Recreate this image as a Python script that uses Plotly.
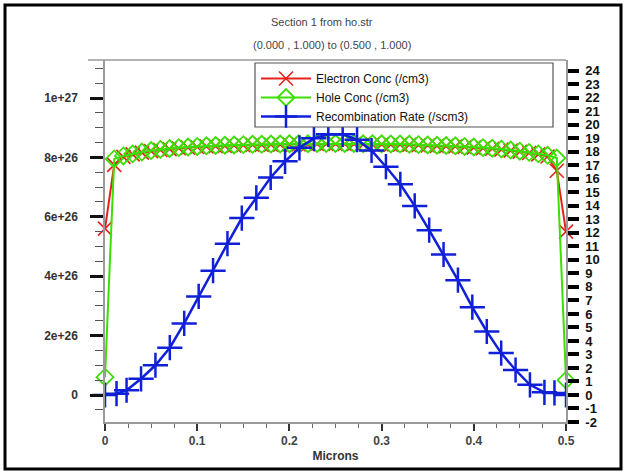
import plotly.graph_objects as go

# ---------------- data ----------------
x_conc = [0.00, 0.01, 0.02, 0.03, 0.04, 0.05, 0.06, 0.07, 0.08, 0.09,
          0.10, 0.11, 0.12, 0.13, 0.14, 0.15, 0.16, 0.17, 0.18, 0.19,
          0.20, 0.21, 0.22, 0.23, 0.24, 0.25, 0.26, 0.27, 0.28, 0.29,
          0.30, 0.31, 0.32, 0.33, 0.34, 0.35, 0.36, 0.37, 0.38, 0.39,
          0.40, 0.41, 0.42, 0.43, 0.44, 0.45, 0.46, 0.47, 0.48, 0.49, 0.50]

electron_conc = [5.60e26, 7.75e26, 8.02e26, 8.10e26, 8.16e26, 8.21e26, 8.25e26, 8.28e26, 8.31e26, 8.33e26,
                 8.35e26, 8.37e26, 8.38e26, 8.39e26, 8.40e26, 8.41e26, 8.42e26, 8.42e26, 8.43e26, 8.43e26,
                 8.44e26, 8.44e26, 8.44e26, 8.45e26, 8.45e26, 8.45e26, 8.45e26, 8.45e26, 8.44e26, 8.44e26,
                 8.44e26, 8.43e26, 8.43e26, 8.42e26, 8.41e26, 8.40e26, 8.39e26, 8.38e26, 8.37e26, 8.35e26,
                 8.33e26, 8.31e26, 8.29e26, 8.26e26, 8.23e26, 8.19e26, 8.15e26, 8.10e26, 8.03e26, 7.55e26, 5.50e26]

hole_conc = [0.60e26, 7.95e26, 8.05e26, 8.12e26, 8.18e26, 8.23e26, 8.27e26, 8.30e26, 8.33e26, 8.35e26,
             8.37e26, 8.39e26, 8.40e26, 8.41e26, 8.42e26, 8.43e26, 8.44e26, 8.44e26, 8.45e26, 8.45e26,
             8.46e26, 8.46e26, 8.46e26, 8.47e26, 8.47e26, 8.47e26, 8.47e26, 8.47e26, 8.46e26, 8.46e26,
             8.46e26, 8.45e26, 8.45e26, 8.44e26, 8.43e26, 8.42e26, 8.41e26, 8.40e26, 8.39e26, 8.37e26,
             8.35e26, 8.33e26, 8.31e26, 8.28e26, 8.25e26, 8.21e26, 8.17e26, 8.12e26, 8.07e26, 7.98e26, 0.50e26]

x_recomb = [0.0, 0.0125, 0.0234, 0.0391, 0.0547, 0.0703, 0.0859, 0.1016, 0.1172, 0.1328,
            0.1484, 0.1641, 0.1797, 0.1953, 0.2109, 0.2266, 0.2422, 0.2578, 0.2734, 0.2891,
            0.3047, 0.3203, 0.3359, 0.3516, 0.3672, 0.3828, 0.3984, 0.4141, 0.4297, 0.4453,
            0.4609, 0.4766, 0.4875, 0.5]

recomb_rate = [0.0, 0.1, 0.35, 1.2, 2.2, 3.5, 5.3, 7.3, 9.2, 11.2,
               13.1, 14.6, 16.1, 17.3, 18.3, 19.0, 19.3, 19.3, 18.9, 18.1,
               16.9, 15.6, 14.0, 12.2, 10.4, 8.5, 6.5, 4.7, 3.1, 1.85,
               0.75, 0.2, 0.15, 0.0]

left_tickvals = [0, 2e26, 4e26, 6e26, 8e26, 1e27]
left_ticktext = ["0", "2e+26", "4e+26", "6e+26", "8e+26", "1e+27"]
x_tickvals = [0, 0.1, 0.2, 0.3, 0.4, 0.5]
x_ticktext = ["0", "0.1", "0.2", "0.3", "0.4", "0.5"]
right_tickvals = [-2, -1, 0, 1, 2, 3, 4, 5, 6, 7, 8, 9, 10, 11, 12,
                  13, 14, 15, 16, 17, 18, 19, 20, 21, 22, 23, 24]
right_ticktext = ["-2", "-1", "0", "1", "2", "3", "4", "5", "6", "7", "8", "9", "10", "11", "12",
                  "13", "14", "15", "16", "17", "18", "19", "20", "21", "22", "23", "24"]

title_line1 = "Section 1 from ho.str"
title_line2 = "(0.000 , 1.000) to (0.500 , 1.000)"

# ---------------- layout geometry ----------------
W, H = 624, 473
ML, MR, MT, MB = 105, 58, 60, 51
PW, PH = W - ML - MR, H - MT - MB

FONT = "Liberation Sans Narrow, Arial Narrow, Liberation Sans, Arial, sans-serif"


def px_to_paper_x(px):
    return (px - ML) / PW


def px_to_paper_y(py):
    return (H - MB - py) / PH


def bold(labels):
    return ["<b>" + s + "</b>" for s in labels]


fig = go.Figure()

fig.add_trace(go.Scatter(
    x=x_conc, y=electron_conc, name="Electron Conc (/cm3)",
    mode="lines+markers", cliponaxis=False,
    line=dict(color="#e8201c", width=2),
    marker=dict(symbol="x-thin", size=14, line=dict(color="#e8201c", width=1.6)),
))
fig.add_trace(go.Scatter(
    x=x_conc, y=hole_conc, name="Hole Conc (/cm3)",
    mode="lines+markers", cliponaxis=False,
    line=dict(color="#3ae000", width=2),
    marker=dict(symbol="diamond-open", size=13, color="#3ae000",
                line=dict(color="#3ae000", width=1.8)),
))
fig.add_trace(go.Scatter(
    x=x_recomb, y=recomb_rate, name="Recombination Rate (/scm3)",
    mode="lines+markers", cliponaxis=False, yaxis="y2",
    line=dict(color="#1020d8", width=2.5),
    marker=dict(symbol="cross-thin", size=18, line=dict(color="#1020d8", width=2.5)),
))

# outer black frame
fig.add_shape(type="rect", xref="paper", yref="paper",
              x0=px_to_paper_x(5), x1=px_to_paper_x(621),
              y0=px_to_paper_y(469), y1=px_to_paper_y(5),
              line=dict(color="black", width=3), fillcolor="rgba(0,0,0,0)", layer="above")
# grey top edge of plot box (extends slightly to the left)
fig.add_shape(type="line", xref="paper", yref="paper",
              x0=px_to_paper_x(88), x1=1, y0=1, y1=1,
              line=dict(color="#9a9a9a", width=1.5))
# legend frame (wide box as in the original)
fig.add_shape(type="rect", xref="paper", yref="paper",
              x0=px_to_paper_x(255), x1=px_to_paper_x(553),
              y0=px_to_paper_y(127), y1=px_to_paper_y(63),
              line=dict(color="#555", width=1.2), fillcolor="white", layer="above")

fig.add_annotation(text=title_line1, xref="paper", yref="paper",
                   x=px_to_paper_x(322), y=px_to_paper_y(22), showarrow=False,
                   xanchor="center", yanchor="middle",
                   font=dict(size=11, color="#444", family=FONT))
fig.add_annotation(text=title_line2, xref="paper", yref="paper",
                   x=px_to_paper_x(332), y=px_to_paper_y(45), showarrow=False,
                   xanchor="center", yanchor="middle",
                   font=dict(size=11, color="#444", family=FONT))

fig.update_layout(
    width=W, height=H,
    margin=dict(l=ML, r=MR, t=MT, b=MB, pad=0),
    paper_bgcolor="white", plot_bgcolor="white",
    font=dict(family=FONT, color="#222"),
    showlegend=True,
    legend=dict(x=px_to_paper_x(256), y=px_to_paper_y(64), xanchor="left", yanchor="top",
                bgcolor="rgba(0,0,0,0)", borderwidth=0,
                font=dict(size=12, color="#111", family=FONT),
                itemwidth=50, tracegroupgap=0),
    xaxis=dict(range=[0, 0.5], tickvals=x_tickvals, ticktext=bold(x_ticktext),
               showgrid=False, zeroline=False,
               showline=True, linecolor="#9a9a9a", linewidth=1.5,
               ticks="outside", ticklen=7, tickwidth=2, tickcolor="#333",
               minor=dict(dtick=0.025, ticks="outside", ticklen=4, tickwidth=1, tickcolor="#666"),
               tickfont=dict(size=12, color="#444", family=FONT),
               title=dict(text="<b>Microns</b>", font=dict(size=12, color="#333", family=FONT),
                          standoff=4)),
    yaxis=dict(range=[-0.909e26, 11.28e26], tickvals=left_tickvals, ticktext=bold(left_ticktext),
               showgrid=False, zeroline=False,
               showline=True, linecolor="#9a9a9a", linewidth=1.5,
               ticks="outside", ticklen=13, tickwidth=2.5, tickcolor="#111",
               minor=dict(dtick=0.5e26, ticks="outside", ticklen=8, tickwidth=1.2, tickcolor="#555"),
               tickfont=dict(size=12, color="#333", family=FONT),
               ticklabelstandoff=10),
    yaxis2=dict(range=[-2.0, 24.8], overlaying="y", side="right",
                tickvals=right_tickvals, ticktext=bold(right_ticktext),
                showgrid=False, zeroline=False,
                showline=True, linecolor="#9a9a9a", linewidth=1.5,
                ticks="outside", ticklen=11, tickwidth=4, tickcolor="#000",
                tickfont=dict(size=13, color="#111", family=FONT),
                ticklabelstandoff=4),
)

fig.write_html("out.html", config={"displayModeBar": False},
               post_script="document.body.style.margin='0px';")
